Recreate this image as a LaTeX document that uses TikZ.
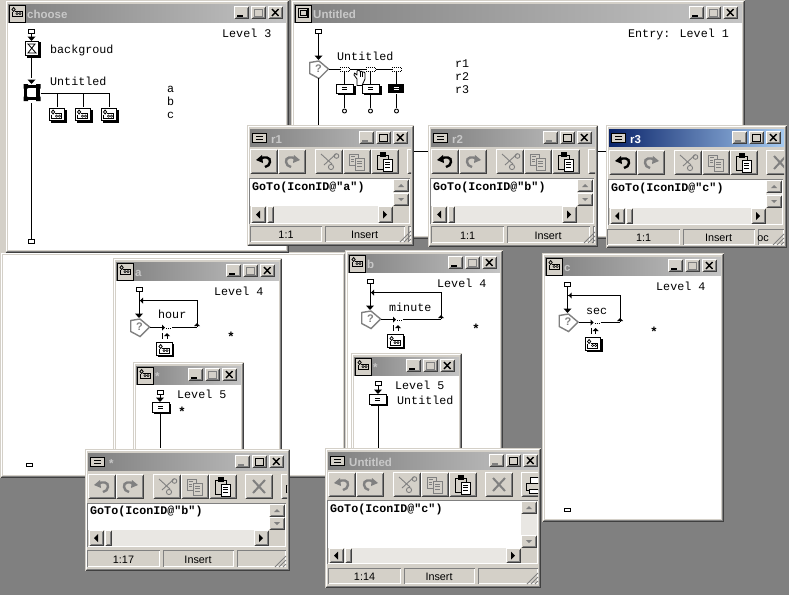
\documentclass[tikz,border=0pt]{standalone}
\usepackage{fontspec}
\setmainfont{Liberation Sans}
\newfontfamily\lblfont{Liberation Mono}
\definecolor{face}{HTML}{D4D0C8}
\definecolor{desk}{HTML}{808080}
\definecolor{mid}{HTML}{808080}
\definecolor{dk}{HTML}{404040}
\definecolor{dither}{HTML}{E9E7E3}
\definecolor{ttlgray}{HTML}{C8C8C8}
\definecolor{tlL}{HTML}{808080}
\definecolor{tlR}{HTML}{C4C4C4}
\definecolor{acL}{HTML}{0A246A}
\definecolor{acR}{HTML}{A6CAF0}
\tikzset{
  lbltxt/.style={anchor=base west,inner sep=0pt,font=\lblfont\fontsize{11.7}{12}\selectfont,text=black},
  startxt/.style={anchor=base west,inner sep=0pt,font=\lblfont\bfseries\fontsize{13}{13}\selectfont,text=black},
  codetxt/.style={anchor=base west,inner sep=0pt,font=\lblfont\bfseries\fontsize{11.7}{12}\selectfont,text=black},
  stattxt/.style={anchor=base,inner sep=0pt,font=\fontsize{10.8}{12}\selectfont,text=black},
  ttltxt/.style={anchor=base west,inner sep=0pt,font=\bfseries\fontsize{11.5}{12}\selectfont},
  flow/.style={black,line width=1pt},
  gl/.style={line width=.8pt},
}
\newcommand\lbl[4]{\node[lbltxt] (#1) at (#2,#3) {#4};}
\newcommand\stl[3]{\node[startxt] (#1) at (#2,#3) {*};}
\newcommand\bev[4]{%
  \fill[face] (#1,#2) rectangle (#3,#4);
  \draw[white,line width=1pt] (#1+.5,#4-1) -- (#1+.5,#2+.5) -- (#3-1,#2+.5);
  \draw[dk,line width=1pt] (#1+.5,#4-.5) -- (#3-.5,#4-.5) -- (#3-.5,#2+.5);
  \draw[mid,line width=1pt] (#1+1.5,#4-1.5) -- (#3-1.5,#4-1.5) -- (#3-1.5,#2+1.5);}
\newcommand\winframe[4]{%
  \fill[face] (#1,#2) rectangle (#3,#4);
  \draw[white,line width=1pt] (#1+1.5,#4-2) -- (#1+1.5,#2+1.5) -- (#3-2,#2+1.5);
  \draw[dk,line width=1pt] (#1+.5,#4-.5) -- (#3-.5,#4-.5) -- (#3-.5,#2+.5);
  \draw[mid,line width=1pt] (#1+1.5,#4-1.5) -- (#3-1.5,#4-1.5) -- (#3-1.5,#2+1.5);}
\newcommand\tbuts[4]{%
  \bev{#1-34}{#2}{#1-19}{#2+13}
  \draw[#3,line width=2pt] (#1-31,#2+10) -- (#1-25,#2+10);
  \bev{#1-17}{#2}{#1-2}{#2+13}
  \draw[#4,line width=1pt] (#1-14,#2+3) rectangle (#1-6,#2+10);
  \draw[#4,line width=1pt] (#1-14,#2+3.5) -- (#1-6,#2+3.5);
  \bev{#1}{#2}{#1+15}{#2+13}
  \draw[black,line width=1.4pt] (#1+4,#2+3) -- (#1+10.5,#2+10) (#1+10.5,#2+3) -- (#1+4,#2+10);}
\newcommand\mapglyph[2]{%
  \begin{scope}[shift={(#1,#2)}]
    \draw[gl] (3,3.5) -- (4.6,1.5) -- (6.2,3.5) -- (4.6,5.5) -- cycle;
    \draw[gl] (3.2,6) -- (3.2,10) -- (13,10) -- (13,5) -- (6,5);
    \fill (8,7.5) circle (1.5) (11,7.5) circle (1.5);
    \fill[white] (8,7.5) circle (.5) (11,7.5) circle (.5);
  \end{scope}}
\newcommand\mapi[2]{%
  \fill[black] (#1+2,#2+2) rectangle (#1+18,#2+15);
  \fill[white] (#1,#2) rectangle (#1+16,#2+13);
  \draw[black,line width=.9pt] (#1+.5,#2+.5) rectangle (#1+16,#2+13);
  \mapglyph{#1}{#2+1}}
\newcommand\calci[4]{%
  \fill[black] (#1+2,#2+2) rectangle (#1+#3+2,#2+#4+2);
  \fill[white] (#1,#2) rectangle (#1+#3,#2+#4);
  \draw[black,line width=1pt] (#1+.5,#2+.5) rectangle (#1+#3,#2+#4);
  \draw[black,line width=.8pt] (#1+.5*#3-2.5,#2+.5*#4-1) -- ++(5,0) (#1+.5*#3-2.5,#2+.5*#4+1) -- ++(5,0);}
\newcommand\startr[2]{\draw[black,fill=white,line width=1pt] (#1-3,#2+.5) rectangle (#1+3,#2+4.5);}
\newcommand\adn[2]{\fill[black] (#1-4,#2-4.5) -- (#1+4,#2-4.5) -- (#1,#2) -- cycle;}
\newcommand\aup[2]{\fill[black] (#1-3,#2+3) -- (#1+3,#2+3) -- (#1,#2) -- cycle;}
\newcommand\alft[2]{\fill[black] (#1,#2) -- (#1+3,#2-3) -- (#1+3,#2+3) -- cycle;}
\newcommand\art[2]{\fill[black] (#1,#2) -- (#1-3,#2-3) -- (#1-3,#2+3) -- cycle;}
\newcommand\decis[2]{%
  \begin{scope}[shift={(#1,#2)}]
    \fill[white] (0,2) -- (10,0) -- (20,9) -- (10,19) -- (0,14) -- cycle;
    \draw[mid,line width=1.4pt,line join=miter] (0.7,2.5) -- (10,1) -- (19.5,9) -- (10,18.5) -- (0.7,13.5) -- cycle;
    \node[inner sep=0pt,font=\bfseries\fontsize{11}{11}\selectfont,text=mid] at (9.5,8.5) {?};
  \end{scope}}
\newcommand\loopf[3]{%
  \startr{#1}{#2}
  \draw[flow] (#1,#2+4.5) -- (#1,#2+30);
  \adn{#1}{#2+31}
  \draw[flow] (#1,#2+13.5) -- (#3,#2+13.5) -- (#3,#2+40);
  \alft{#1+1}{#2+13.5}
  \aup{#3}{#2+36}
  \decis{#1-9}{#2+31}
  \draw[flow] (#1+11,#2+40.5) -- (#1+23,#2+40.5);
  \art{#1+26}{#2+40.5}
  \draw[black,line width=1pt,dash pattern=on 1pt off 1pt] (#1+27,#2+41) -- (#1+33,#2+41);
  \draw[flow] (#1+33,#2+40.5) -- (#3,#2+40.5);
  \draw[flow] (#1+23.5,#2+46) -- (#1+23.5,#2+52);
  \aup{#1+28}{#2+46}
  \draw[flow] (#1+28,#2+48) -- (#1+28,#2+52);
  \mapi{#1+17}{#2+55}}
\newcommand\wicon[3]{%
  \fill[face] (#1,#2) rectangle (#1+16,#2+17);
  \draw[black,line width=1pt] (#1+.5,#2+.5) rectangle (#1+16,#2+17);
  #3}
\newcommand\flowwin[7]{%
  \winframe{#1}{#2}{#3}{#4}
  \fill[white] (#1+3,#2+22) rectangle (#3-3,#4-3);
  \shade[left color=tlL,right color=tlR] (#1+3,#2+4) rectangle (#3-3,#2+22);
  \tbuts{#5}{#2+6}{black}{mid}
  \wicon{#1+4}{#2+5}{#6}
  \node[ttltxt,text=ttlgray] at (#1+22,#2+18) {#7};}
\newcommand\tbtn[3]{\begin{scope}[shift={(#1,#2)}]\bev{0}{0}{28}{25}#3\end{scope}}
\newcommand\icundo[1]{%
  \draw[#1,line width=2.4pt] (10,10) .. controls (14,7) and (21,8) .. (20,13) .. controls (19.5,16) and (18,17) .. (15,18);
  \fill[#1] (6,11) -- (12,6) -- (13,14) -- cycle;}
\newcommand\icredo[1]{\begin{scope}[shift={(28,0)},xscale=-1]\icundo{#1}\end{scope}}
\newcommand\icscis{%
  \draw[mid,line width=.9pt] (6,5) -- (17,15) (21,5) -- (9,16);
  \draw[mid,line width=.9pt] (21.5,7) circle (2.3) (16,18) circle (2.6);}
\newcommand\iccopy{%
  \draw[mid,line width=.9pt] (6,5) rectangle (15,16);
  \draw[mid,fill=face,line width=.9pt] (12,9) rectangle (21,21);
  \draw[mid,line width=.8pt] (8,7.5) -- (12,7.5) (8,10) -- (11,10) (8,12.5) -- (11,12.5) (14,12) -- (19,12) (14,14.5) -- (19,14.5) (14,17) -- (19,17);}
\newcommand\icpaste{%
  \draw[black,fill=face,line width=1pt] (6,6) rectangle (17,20);
  \draw[black,fill=black] (9,3.5) rectangle (14,7.5);
  \draw[black,fill=white,line width=1pt] (12,10) rectangle (21,22);
  \draw[black,line width=.8pt] (14,13) -- (19,13) (14,15.5) -- (19,15.5) (14,18) -- (19,18);}
\newcommand\icx{\draw[mid,line width=2pt] (8,6) -- (20,19) (20,6) -- (8,19);}
\newcommand\icprn{%
  \draw[black,fill=white,line width=1pt] (9,5) rectangle (21,11);
  \draw[black,fill=face,line width=1pt] (5,11) rectangle (24,18);
  \draw[black,fill=white,line width=1pt] (8,17) rectangle (22,21);}
\newcommand\sunk[4]{%
  \draw[mid,line width=1pt] (#1+.5,#4-.5) -- (#1+.5,#2+.5) -- (#3-.5,#2+.5);
  \draw[white,line width=1pt] (#1+.5,#4-.5) -- (#3-.5,#4-.5) -- (#3-.5,#2+.5);}
\newcommand\editwin[9]{%
  \winframe{#1}{#2}{#3}{#4}
  \shade[left color=#7,right color=#8] (#1+3,#2+4) rectangle (#3-3,#2+21);
  \tbuts{#5}{#2+6}{mid}{black}
  \fill[face] (#1+5,#2+8) rectangle (#1+19,#2+17);
  \draw[black,line width=1pt] (#1+5.5,#2+8.5) rectangle (#1+19.5,#2+17.5);
  \draw[black,line width=.8pt] (#1+9,#2+11.5) -- (#1+16,#2+11.5) (#1+9,#2+14.5) -- (#1+16,#2+14.5);
  \node[ttltxt,text=#9] at (#1+24,#2+18) {#6};
  \begin{scope}
    \clip (#1+3,#2+20) rectangle (#3-3,#2+52);
    \tbtn{#1+3}{\TY}{\icundo{\UC}}
    \tbtn{#1+31}{\TY}{\icredo{mid}}
    \tbtn{#1+68}{\TY}{\icscis}
    \tbtn{#1+96}{\TY}{\iccopy}
    \tbtn{#1+124}{\TY}{\icpaste}
    \tbtn{#1+160}{\TY}{\icx}
    \tbtn{#1+196}{\TY}{\icprn}
  \end{scope}
  \fill[white] (#1+3,\EY) rectangle (\VL+16,\HY);
  \sunk{#1+2}{\EY-1}{\VL+17}{\HE+1}
  \fill[dither] (\VL,\EY) rectangle (\VL+16,\HY);
  \bev{\VL}{\EY}{\VL+16}{\EY+13}
  \fill[mid] (\VL+5,\EY+8) -- (\VL+11,\EY+8) -- (\VL+8,\EY+5) -- cycle;
  \bev{\VL}{\HY-13}{\VL+16}{\HY}
  \fill[mid] (\VL+5,\HY-8) -- (\VL+11,\HY-8) -- (\VL+8,\HY-5) -- cycle;
  \fill[dither] (#1+19,\HY) rectangle (\VL,\HE);
  \bev{#1+4}{\HY}{#1+19}{\HE}
  \fill[black] (#1+9,\HY+.5*\HE-.5*\HY) -- (#1+13,\HY+.5*\HE-.5*\HY-4) -- (#1+13,\HY+.5*\HE-.5*\HY+4) -- cycle;
  \bev{#1+20}{\HY}{#1+27}{\HE}
  \bev{\VL-15}{\HY}{\VL}{\HE}
  \fill[black] (\VL-6,\HY+.5*\HE-.5*\HY) -- (\VL-10,\HY+.5*\HE-.5*\HY-4) -- (\VL-10,\HY+.5*\HE-.5*\HY+4) -- cycle;
  \fill[face] (\VL,\HY) rectangle (\VL+16,\HE);
  \sunk{\CA}{\SY}{\CB}{\SE}
  \sunk{\CB+3}{\SY}{\CC}{\SE}
  \sunk{\CC+3}{\SY}{\CD}{\SE}
  \node[codetxt] at (#1+5,\CY) {GoTo(IconID@"\CT")};
  \node[stattxt] at ({.5*\CA+.5*\CB},\SE-4) {\SL};
  \node[stattxt] at ({.5*\CB+.5*\CC+1},\SE-4) {Insert};
  \draw[mid,line width=.8pt] (\CD-11,\SE) -- (\CD,\SE-11) (\CD-7,\SE) -- (\CD,\SE-7) (\CD-3,\SE) -- (\CD,\SE-3);}
\begin{document}
\begin{tikzpicture}[x=1pt,y=-1pt]
\useasboundingbox (0,0) rectangle (789,595);
\fill[desk] (0,0) rectangle (789,595);
%--- large lower-left window
\winframe{0}{252}{346}{478}
\fill[white] (3,255) rectangle (343,475);
\draw[black,fill=white,line width=1pt] (26.5,463.5) rectangle (32.5,466.5);
%--- choose
\fill[face] (0,0) rectangle (5,253);
\flowwin{5}{0}{289}{253}{268}{\mapglyph{9}{6}}{choose}
\startr{31.5}{29}
\draw[flow] (31.5,33) -- (31.5,38);
\adn{31.5}{41}
\fill[black] (27,42) rectangle (41,58);
\draw[black,fill=white,line width=1pt] (25.5,41.5) rectangle (38.5,55.5);
\draw[black,line width=.8pt] (28,44) -- (35,44) -- (28,53) -- (36,53) -- cycle;
\draw[flow] (31.5,56) -- (31.5,78);
\adn{31.5}{84}
\draw[black,line width=3.2pt] (25.5,86.5) rectangle (38,98.5);
\fill[black] (23.5,84) rectangle (28,88.5) (36,84) rectangle (40.5,88.5) (23.5,96.5) rectangle (28,101) (36,96.5) rectangle (40.5,101);
\draw[flow] (40.5,93.5) -- (109.5,93.5);
\draw[flow] (57.5,93.5) -- (57.5,107) (83.5,93.5) -- (83.5,107) (109.5,93.5) -- (109.5,107);
\mapi{48.5}{107.5}
\mapi{74.5}{107.5}
\mapi{100.5}{107.5}
\draw[flow] (31.5,103) -- (31.5,240);
\startr{31.5}{239}
\lbl{chL}{222}{37}{Level 3}
\lbl{chB}{50}{53}{backgroud}
\lbl{chU}{50}{85}{Untitled}
\lbl{chA}{167}{92}{a}
\lbl{chB2}{167}{105}{b}
\lbl{chC}{167}{118}{c}
%--- Untitled main
\flowwin{291}{0}{745}{239}{723}{\draw[black,line width=1.8pt] (298.5,8.5) rectangle (308,17.5);\draw[black,line width=.7pt] (300.5,10.5) rectangle (306,15.5);}{Untitled}
\startr{318.5}{29}
\draw[flow] (318.5,33) -- (318.5,56);
\adn{318.5}{60}
\decis{309}{60}
\draw[flow] (328.5,69.5) -- (396,69.5);
\foreach \q in {344.5,370.5,396.5}{
  \fill[white] (\q-5,66.5) rectangle (\q+5,71.5);
  \draw[black,line width=.7pt,dash pattern=on 1pt off 1pt] (\q-4.5,67) rectangle (\q+4.5,71.5);
  \draw[flow] (\q,72) -- (\q,84) (\q,94) -- (\q,108);
  \draw[black,fill=white,line width=.9pt] (\q,111) circle (2);
}
\calci{335.5}{84}{18}{9}
\calci{361.5}{84}{18}{9}
\fill[black] (388,84) rectangle (404,93);
\draw[white,line width=.8pt] (393.5,87.5) -- (398.5,87.5) (393.5,89.5) -- (398.5,89.5);
\draw[flow] (318.5,78) -- (318.5,125);
\draw[black,fill=white,line width=.8pt,line join=round] (357,85.5) -- (357,79) -- (354,75) -- (354.5,73) -- (357,75) -- (357,71) .. controls (358,69.5) and (359.5,70) .. (360,71) -- (360,72) .. controls (361,71) and (362,71) .. (362.5,72) .. controls (363.5,71.5) and (364.5,72) .. (365,73) -- (365,79) -- (362,85.5) -- cycle;
\draw[black,line width=.6pt] (359.8,72) -- (359.8,77) (362.5,72) -- (362.5,77);
\lbl{mnE}{628}{37}{Entry: Level 1}
\lbl{mnU}{337}{60}{Untitled}
\lbl{mnR1}{455}{67}{r1}
\lbl{mnR2}{455}{80}{r2}
\lbl{mnR3}{455}{93}{r3}
\draw[flow] (414,151.5) -- (606,151.5);
%--- window a
\flowwin{113}{258}{282}{452}{260}{\mapglyph{117}{264}}{a}
\loopf{139}{287}{197}
\lbl{aL}{214}{295}{Level 4}
\lbl{aH}{158}{318}{hour}
\stl{aS}{227}{341}
\flowwin{133}{362}{244}{452}{222}{\mapglyph{137}{368}}{*}
\startr{160}{390}
\draw[flow] (160,394) -- (160,398);
\adn{160}{402}
\calci{152}{402}{17}{10}
\draw[flow] (160,412) -- (160,448);
\lbl{a5L}{177}{398}{Level 5}
\stl{a5S}{178}{416}
%--- window b
\flowwin{345}{250}{503}{452}{482}{\mapglyph{349}{256}}{b}
\loopf{370}{279}{441}
\lbl{bL}{437}{287}{Level 4}
\lbl{bM}{389}{311}{minute}
\stl{bS}{472}{333}
\flowwin{351}{353}{462}{452}{440}{\mapglyph{355}{359}}{*}
\startr{378}{381}
\draw[flow] (378,385) -- (378,390);
\adn{378}{394}
\calci{369}{394}{17}{10}
\draw[flow] (378,404) -- (378,448);
\lbl{b5L}{395}{389}{Level 5}
\lbl{b5U}{397}{404}{Untitled}
%--- window c
\flowwin{542}{253}{724}{522}{702}{\mapglyph{546}{259}}{c}
\loopf{567.5}{282}{620}
\lbl{cL}{656}{290}{Level 4}
\lbl{cM}{586}{314}{sec}
\stl{cS}{650}{336}
\draw[black,fill=white,line width=1pt] (564.5,508.5) rectangle (570.5,511.5);
%--- r1
\def\TY{149}\def\EY{179}\def\HY{206}\def\HE{223}\def\VL{393}\def\SY{226}\def\SE{242}
\def\CA{250}\def\CB{322}\def\CC{405}\def\CD{411}\def\CY{190}\def\CT{a}\def\SL{1:1}\def\UC{black}
\editwin{247}{125}{414}{246}{393}{r1}{tlL}{tlR}{ttlgray}
%--- r2
\def\CA{431}\def\CB{504}\def\CC{590}\def\CD{595}\def\VL{577}\def\CT{b}\def\SE{243}
\editwin{428}{125}{598}{247}{577}{r2}{tlL}{tlR}{ttlgray}
%--- r3
\def\TY{150}\def\EY{180}\def\HY{208}\def\HE{224}\def\VL{766}\def\SY{229}\def\SE{245}
\def\CA{607}\def\CB{680}\def\CC{755}\def\CD{784}\def\CY{191}\def\CT{c}
\editwin{606}{125}{787}{248}{766}{r3}{acL}{acR}{white}
\node[stattxt] (r3oc) at (763,241) {oc};
%--- * editor
\def\TY{474}\def\EY{504}\def\HY{530}\def\HE{546}\def\VL{269}\def\SY{550}\def\SE{567}
\def\CA{87}\def\CB{160}\def\CC{234}\def\CD{286}\def\CY{514}\def\CT{b}\def\SL{1:17}\def\UC{mid}
\editwin{85}{449}{290}{571}{269}{*}{tlL}{tlR}{ttlgray}
%--- Untitled editor
\def\TY{472}\def\EY{501}\def\HY{548}\def\HE{563}\def\VL{521}\def\SY{568}\def\SE{584}
\def\CA{328}\def\CB{401}\def\CC{475}\def\CD{538}\def\CY{512}\def\CT{c}\def\SL{1:14}
\editwin{325}{448}{541}{588}{523}{Untitled}{tlL}{tlR}{ttlgray}
\end{tikzpicture}
\end{document}
